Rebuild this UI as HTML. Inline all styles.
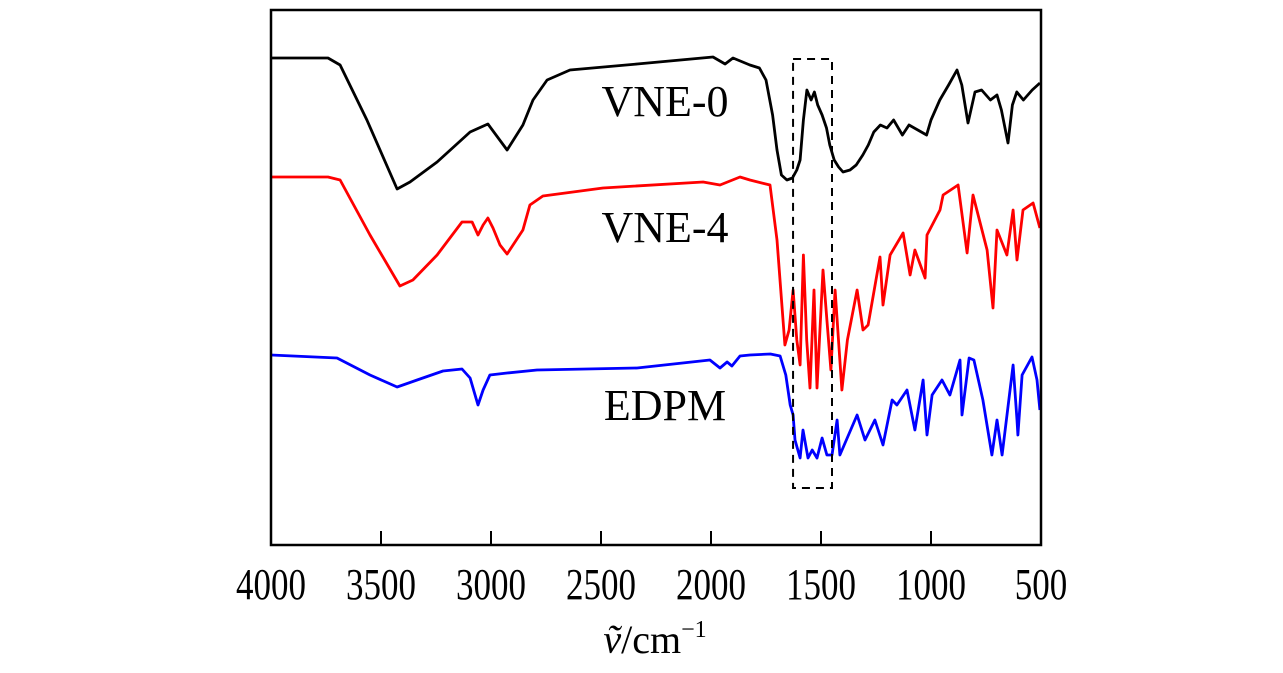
<!DOCTYPE html>
<html><head><meta charset="utf-8"><style>
body{margin:0;background:#fff;}
svg text{font-family:"Liberation Serif",serif;fill:#000;}
</style></head><body>
<svg id="chart" width="1283" height="668" viewBox="0 0 1283 668">
<g id="plot"></g>
</svg>
<script>
// wavenumbers (cm^-1) and offset transmittance (a.u., measured downward from top of frame)
const vne0Wn=[4000,3741,3686,3564,3427,3368,3245,3095,3014,2927,2855,2809,2745,2641,2336,1991,1936,1900,1823,1780,1750,1720,1700,1680,1655,1630,1610,1595,1580,1564,1545,1530,1515,1495,1475,1460,1440,1420,1400,1368,1340,1310,1285,1260,1230,1200,1170,1130,1100,1060,1020,1000,960,920,882,860,832,800,770,730,700,680,650,630,610,580,540,505];
const vne0T=[48,48,55,110,179,172,152,122,114,140,115,90,70,60,54,47,54,48,55,58,70,105,140,165,170,168,160,150,110,80,90,82,95,105,118,135,150,157,162,160,155,145,135,122,115,118,110,125,115,120,125,110,90,75,60,75,113,82,80,90,85,100,133,95,82,90,80,73];
const vne4Wn=[4000,3741,3686,3550,3414,3355,3245,3132,3086,3059,3036,3014,2991,2959,2927,2855,2823,2764,2491,2036,1959,1868,1823,1732,1700,1664,1645,1627,1610,1595,1580,1565,1550,1532,1518,1491,1473,1455,1436,1405,1380,1336,1309,1286,1232,1218,1186,1127,1095,1073,1027,1018,959,945,877,836,809,745,718,700,655,627,609,582,536,505];
const vne4T=[167,167,170,225,276,270,245,212,212,225,215,208,218,235,244,220,195,186,178,172,175,167,170,175,230,335,320,280,330,355,245,330,378,280,378,260,310,360,280,380,330,280,320,315,247,295,245,223,265,240,268,225,200,185,175,243,185,240,298,220,245,200,250,200,193,218];
const edpmWn=[4000,3700,3550,3427,3336,3218,3132,3095,3059,3036,3005,2927,2791,2336,2005,1959,1927,1905,1868,1823,1730,1686,1660,1640,1627,1618,1595,1582,1559,1540,1518,1495,1473,1450,1427,1414,1336,1300,1255,1218,1177,1155,1109,1073,1036,1018,995,950,914,868,859,827,805,764,723,700,677,627,609,605,586,541,518,505];
const edpmT=[345,348,365,377,370,361,359,368,395,380,365,363,360,358,350,358,352,356,346,345,344,346,365,395,405,430,448,420,448,440,448,428,445,445,410,445,405,430,410,435,390,395,380,420,370,425,385,370,385,350,405,348,350,390,445,410,445,355,410,425,365,347,370,400];
const xTicks=[4000,3500,3000,2500,2000,1500,1000,500];
const seriesNames=["VNE-0","VNE-4","EDPM"];
const boxRange=[1627,1450];

const L=271,R=1041,T=10,B=545;
const ns="http://www.w3.org/2000/svg";
const g=document.getElementById('plot');
function xS(w){return L+(4000-w)/3500*(R-L);}
function yS(t){return T+t;}
function mk(tag,attrs){const e=document.createElementNS(ns,tag);for(const k in attrs)e.setAttribute(k,attrs[k]);g.appendChild(e);return e;}
function line(wn,tv,color,name){
  const d=wn.map((w,i)=>(i?'L':'M')+xS(w).toFixed(1)+','+yS(tv[i]).toFixed(1)).join(' ');
  const p=mk('path',{d:d,fill:'none',stroke:color,'stroke-width':2.8,'stroke-linejoin':'round'});
  
  
}
line(vne0Wn,vne0T,'#000','vne0-line');
line(vne4Wn,vne4T,'#f00','vne4-line');
line(edpmWn,edpmT,'#00f','edpm-line');
const box=mk('rect',{x:xS(boxRange[0]),y:59,width:xS(boxRange[1])-xS(boxRange[0]),height:429,fill:'none',stroke:'#000','stroke-width':2,'stroke-dasharray':'8,6'});


const fr=mk('rect',{x:L,y:T,width:R-L,height:B-T,fill:'none',stroke:'#000','stroke-width':2.5});


xTicks.forEach(w=>{
  const t=mk('line',{x1:xS(w),x2:xS(w),y1:B,y2:B-14,stroke:'#000','stroke-width':2});
  
  
  const s=String(w);
  const lb=mk('text',{x:xS(w),y:599,'text-anchor':'middle','font-size':44,textLength:17.5*s.length,lengthAdjust:'spacingAndGlyphs'});
  lb.textContent=s;
  
  
});
const labY=[116,242,420];
seriesNames.forEach((s,i)=>{
  const t=mk('text',{x:665,y:labY[i],'text-anchor':'middle','font-size':44});
  t.textContent=s;
  
  
});
const at=mk('text',{x:655,y:653,'text-anchor':'middle','font-size':40});
at.innerHTML='<tspan font-style="italic">ṽ</tspan>/cm<tspan dy="-16" font-size="24">−1</tspan>';


</script>
</body></html>
